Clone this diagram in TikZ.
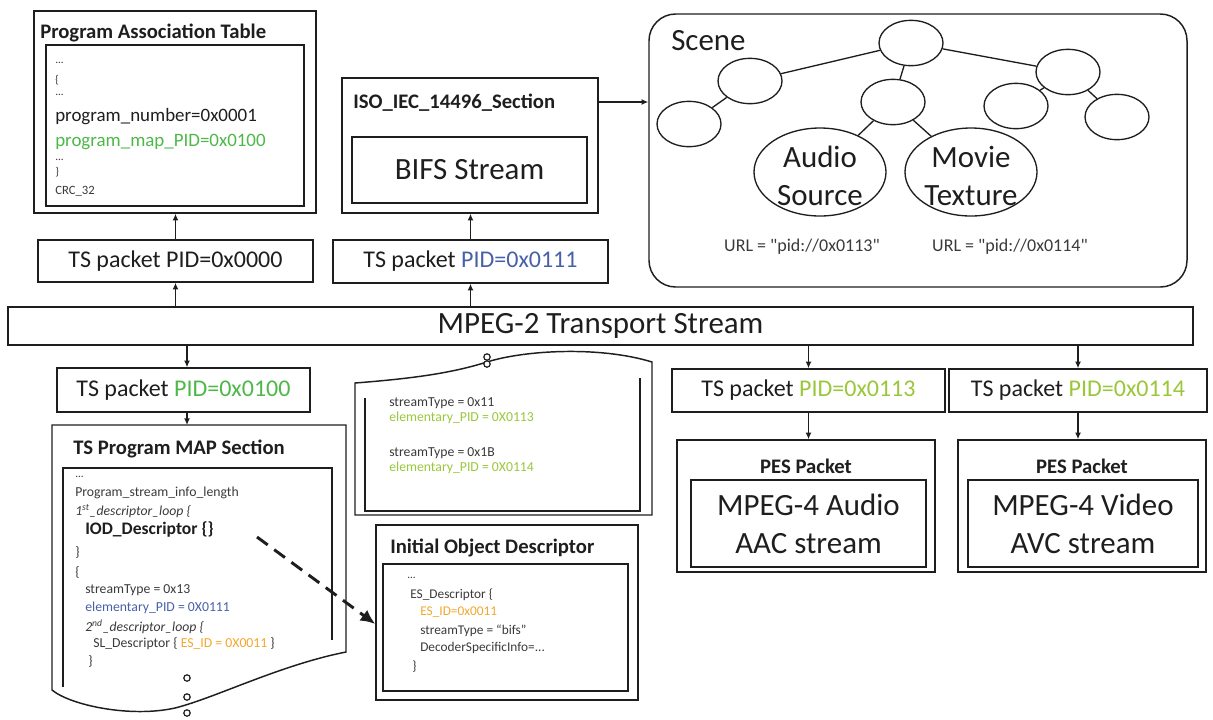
\documentclass[tikz,border=0pt]{standalone}
\usepackage{fontspec}
\setmainfont{Carlito}
\usetikzlibrary{shapes.geometric,arrows.meta}
\definecolor{ink}{HTML}{1E1E1E}
\definecolor{soft}{HTML}{3A3A3A}
\definecolor{pidgreen}{HTML}{4DB848}
\definecolor{pidlime}{HTML}{9AC73A}
\definecolor{pidblue}{HTML}{4760A8}
\definecolor{esorange}{HTML}{F2A72C}
\newcommand{\setsz}[2]{\fontsize{#1}{#2}\selectfont}
\newcommand{\rbox}[7]{\node[box,#6,minimum width={(#4-#2)*0.75pt},minimum height={(#5-#3)*0.75pt}] (#1) at ({(#2+#4)/2},{(#3+#5)/2}) {#7};}
\tikzset{
  box/.style={draw=ink, line width=1.1pt, inner sep=0pt, text=ink},
  lbl/.style={anchor=west, inner sep=0pt, text=ink},
  smalltxt/.style={lbl, text=soft, font=\setsz{10.3}{12}},
  tinytxt/.style={lbl, text=soft, font=\setsz{8.5}{10}},
  ttl/.style={lbl, font=\bfseries\setsz{15.5}{18}},
  tstxt/.style={font=\setsz{18}{21}},
  bigtxt/.style={font=\setsz{23.2}{28.5}, align=center},
  arr/.style={draw=ink, line width=1pt, -{Latex[length=5pt,width=4.5pt]}},
  ell/.style={ellipse, draw=ink, line width=1pt, minimum width=48pt, minimum height=34pt, inner sep=0pt},
  bigell/.style={ellipse, draw=ink, line width=1pt, minimum width=99pt, minimum height=66pt, inner sep=0pt},
  treeline/.style={draw=ink, line width=1pt},
  docline/.style={draw=ink, line width=1.1pt},
}
\begin{document}
\begin{tikzpicture}[x=0.75pt,y=-0.75pt]
\useasboundingbox (0,0) rectangle (1213,719);

% ---------- Program Association Table ----------
\rbox{pat}{34}{11}{316}{213}{}{}
\rbox{patin}{46}{45}{304}{206}{}{}
\node[ttl] (patt) at (40,33) {Program Association Table};
\node[tinytxt] (pa1) at (55,63) {...};
\node[tinytxt] (pa2) at (55,80) {\{};
\node[tinytxt] (pa3) at (55,95) {...};
\node[lbl, font=\setsz{14.2}{16}] (pa4) at (55,117) {program\_number=0x0001};
\node[lbl, font=\setsz{14.2}{16}, text=pidgreen] (pa5) at (55,142) {program\_map\_PID=0x0100};
\node[tinytxt] (pa6) at (55,160) {...};
\node[tinytxt] (pa7) at (55,172) {\}};
\node[tinytxt, font=\setsz{9.5}{11}] (pa8) at (55,191) {CRC\_32};

% ---------- ISO section ----------
\rbox{iso}{342}{78}{598}{213}{}{}
\node[ttl] (isot) at (353,103) {ISO\_IEC\_14496\_Section};
\rbox{bifs}{352}{137}{587}{203}{bigtxt}{BIFS Stream}

% ---------- TS packets (top) ----------
\rbox{tsa}{38}{240}{313}{282}{tstxt}{TS packet PID=0x0000}
\rbox{tsb}{333}{240}{608}{283}{tstxt}{TS packet \textcolor{pidblue}{PID=0x0111}}

% ---------- Transport stream bar ----------
\rbox{bar}{8}{307}{1193}{345}{bigtxt}{MPEG-2 Transport Stream}

% ---------- TS packets (bottom) ----------
\rbox{tsc}{57}{368}{310}{412}{tstxt}{TS packet \textcolor{pidgreen}{PID=0x0100}}
\rbox{tsd}{672}{369}{945}{412}{tstxt}{TS packet \textcolor{pidlime}{PID=0x0113}}
\rbox{tse}{949}{369}{1207}{412}{tstxt}{TS packet \textcolor{pidlime}{PID=0x0114}}

% ---------- PES packets ----------
\rbox{pesa}{677}{440}{935}{572}{}{}
\node[font=\bfseries\setsz{15.5}{18}, text=ink, inner sep=0pt] (pesat) at (806,466) {PES Packet};
\rbox{pesai}{691}{480}{926}{567}{bigtxt}{MPEG-4 Audio\\AAC stream}
\rbox{pesb}{958}{440}{1206}{572}{}{}
\node[font=\bfseries\setsz{15.5}{18}, text=ink, inner sep=0pt] (pesbt) at (1082,466) {PES Packet};
\rbox{pesbi}{968}{480}{1198}{567}{bigtxt}{MPEG-4 Video\\AVC stream}

% ---------- Scene ----------
\rbox{scene}{649}{14}{1187}{287}{rounded corners=20pt}{}
\node[lbl, font=\setsz{23.2}{28}] (scenet) at (671,41) {Scene};
\node[ell] (n0) at (911,43) {};
\node[ell] (n1) at (750,81) {};
\node[ell] (n2) at (689,124) {};
\node[ell] (n3) at (893,102) {};
\node[ell] (n4) at (1068,72) {};
\node[ell] (n5) at (1016,106) {};
\node[ell] (n6) at (1117,117) {};
\node[bigell] (aud) at (820,172) {};
\node[bigell] (mov) at (971,172) {};
\node[bigtxt, text=ink, inner sep=0pt] (audt) at (820,176) {Audio\\Source};
\node[bigtxt, text=ink, inner sep=0pt] (movt) at (971,176) {Movie\\Texture};
\draw[treeline] (n0) -- (n1);
\draw[treeline] (n1) -- (n2);
\draw[treeline] (n0) -- (n3);
\draw[treeline] (n0) -- (n4);
\draw[treeline] (n3) -- (aud);
\draw[treeline] (n3) -- (mov);
\draw[treeline] (n4) -- (n5);
\draw[treeline] (n4) -- (n6);
\node[font=\setsz{13.5}{16}, text=soft, inner sep=0pt] (url1) at (802,247) {URL = \textquotedbl pid://0x0113\textquotedbl};
\node[font=\setsz{13.5}{16}, text=soft, inner sep=0pt] (url2) at (1010,247) {URL = \textquotedbl pid://0x0114\textquotedbl};

% ---------- TS Program MAP Section (document) ----------
\draw[docline] (52,425) -- (346,425) -- (346,652)
  .. controls (280,665) and (215,698) .. (175,708)
  .. controls (130,718) and (70,705) .. (52,690) -- cycle;
\draw[docline] (63,687) -- (63,468) -- (332,468) -- (332,640);
\coordinate (maptop) at (187,425);
\draw[ink, line width=0.9pt] (187,678) circle[radius=2.4pt];
\draw[ink, line width=0.9pt, fill=white] (187,697) circle[radius=2.4pt];
\draw[ink, line width=0.9pt] (187,713) circle[radius=2.4pt];
\node[ttl] (mapt) at (73,449) {TS Program MAP Section};
\node[tinytxt] (m1) at (75,477) {...};
\node[smalltxt] (m2) at (75,493) {Program\_stream\_info\_length};
\node[smalltxt] (m3) at (75,511) {\itshape 1\textsuperscript{st}\_descriptor\_loop \{};
\node[lbl, font=\bfseries\setsz{13.2}{15}] (m4) at (85,529) {IOD\_Descriptor \{\}};
\node[smalltxt] (m5) at (75,552) {\}};
\node[smalltxt] (m6) at (75,572) {\{};
\node[smalltxt] (m7) at (85,590) {streamType = 0x13};
\node[smalltxt, text=pidblue] (m8) at (85,608) {elementary\_PID = 0X0111};
\node[smalltxt] (m9) at (85,627) {\itshape 2\textsuperscript{nd}\_descriptor\_loop \{};
\node[smalltxt] (m10) at (93,644) {SL\_Descriptor \{ \textcolor{esorange}{ES\_ID = 0X0011} \}};
\node[smalltxt] (m11) at (88,661) {\}};

% ---------- continuation document (middle) ----------
\draw[docline] (355,383) .. controls (420,378) and (455,372) .. (487,362)
  .. controls (525,350) and (600,346) .. (652,362) -- (652,515) -- (355,515) -- cycle;
\draw[docline] (365,398) -- (365,511) -- (640,511) -- (640,378);
\draw[ink, line width=0.9pt, fill=white] (487,357) circle[radius=2.4pt];
\draw[ink, line width=0.9pt, fill=white] (487,364) circle[radius=2.4pt];
\node[smalltxt] (s1) at (389,403) {streamType = 0x11};
\node[smalltxt, text=pidlime] (s2) at (389,418) {elementary\_PID = 0X0113};
\node[smalltxt] (s3) at (389,453) {streamType = 0x1B};
\node[smalltxt, text=pidlime] (s4) at (389,468) {elementary\_PID = 0X0114};

% ---------- Initial Object Descriptor ----------
\rbox{iod}{376}{525}{638}{700}{}{}
\rbox{iodin}{383}{564}{628}{691}{}{}
\node[ttl] (iodt) at (390,548) {Initial Object Descriptor};
\node[tinytxt] (i1) at (407,578) {...};
\node[smalltxt, font=\setsz{10}{12}] (i2) at (410,595) {ES\_Descriptor \{};
\node[smalltxt, font=\setsz{10}{12}, text=esorange] (i3) at (420,612) {ES\_ID=0x0011};
\node[smalltxt, font=\setsz{10}{12}] (i4) at (420,631) {streamType = “bifs”};
\node[smalltxt, font=\setsz{10}{12}] (i5) at (420,648) {DecoderSpecificInfo=...};
\node[smalltxt, font=\setsz{10}{12}] (i6) at (412,667) {\}};

% ---------- connectors ----------
\draw[arr] (bar.north -| tsa.south) -- (tsa.south);
\draw[arr] (tsa.north) -- (tsa.north |- pat.south);
\draw[arr] (bar.north -| tsb.south) -- (tsb.south);
\draw[arr] (tsb.north) -- (tsb.north |- iso.south);
\coordinate (isoy) at (620,102);
\draw[arr] (isoy -| iso.east) -- (isoy -| scene.west);
\draw[arr] (bar.south -| maptop) -- (tsc.north -| maptop);
\draw[arr] (tsc.south -| maptop) -- (maptop);
\draw[arr] (bar.south -| tsd.north) -- (tsd.north);
\draw[arr] (bar.south -| tse.north) -- (tse.north);
\draw[arr] (tsd.south) -- (tsd.south |- pesa.north);
\draw[arr] (tse.south) -- (tse.south |- pesb.north);
\coordinate (dstart) at (257,537);
\coordinate (dendy) at (0,624);
\draw[draw=ink, line width=2.2pt, dash pattern=on 10pt off 6pt, -{Latex[length=11pt,width=10pt]}] (dstart) -- (iod.west |- dendy);
\end{tikzpicture}
\end{document}
